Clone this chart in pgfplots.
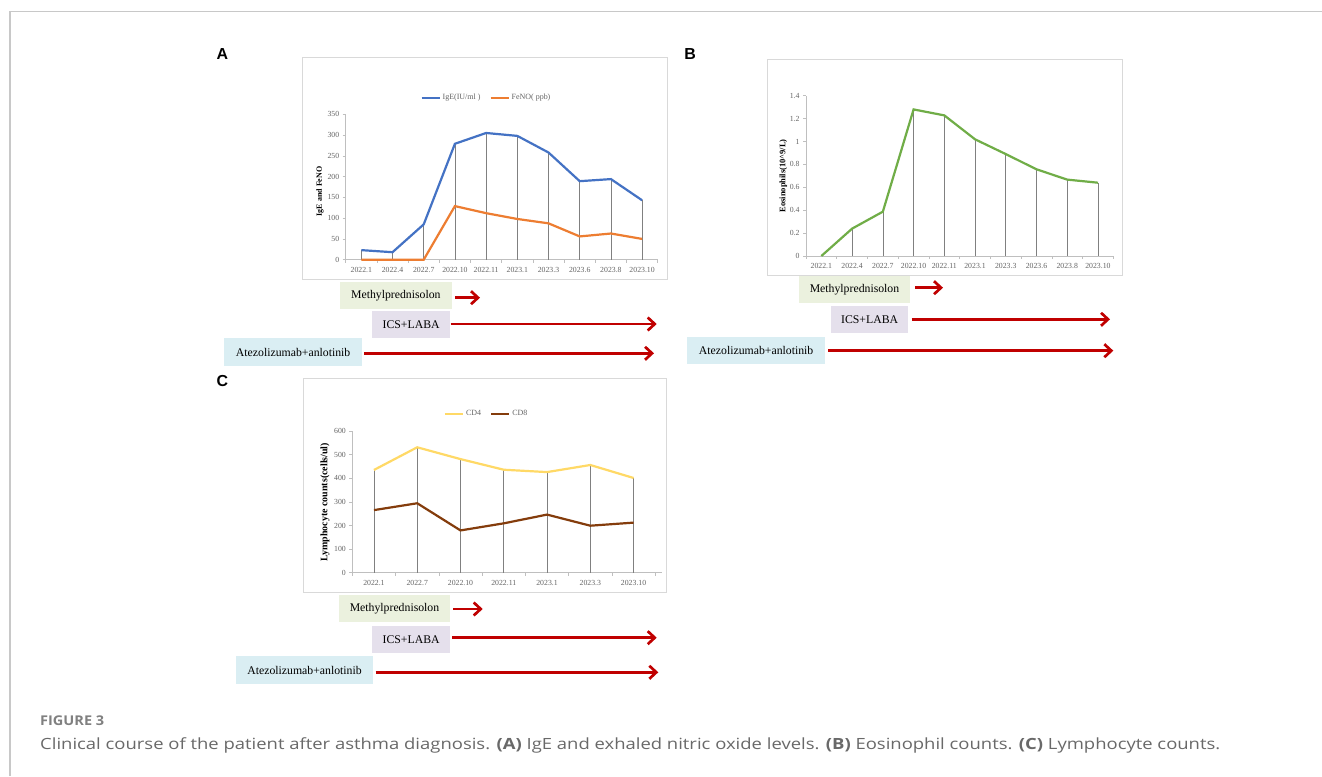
\documentclass[border=0pt]{standalone}
\usepackage{fontspec}
\setmainfont{Liberation Serif}
\newfontfamily\capfont{Open Sans}
\newfontfamily\letterfont{Liberation Sans}
\usepackage{pgfplots}
\pgfplotsset{compat=1.18}
\usetikzlibrary{arrows.meta}
\definecolor{igeblue}{RGB}{68,114,196}
\definecolor{fenoorange}{RGB}{237,125,49}
\definecolor{eosgreen}{RGB}{112,173,71}
\definecolor{cdfour}{RGB}{255,217,102}
\definecolor{cdeight}{RGB}{132,60,12}
\definecolor{arrowred}{RGB}{192,0,0}
\definecolor{fillmeth}{RGB}{235,241,222}
\definecolor{fillics}{RGB}{229,224,236}
\definecolor{fillatez}{RGB}{218,238,243}
\definecolor{framegray}{RGB}{200,200,200}
\definecolor{boxgray}{RGB}{217,217,217}
\definecolor{axgray}{RGB}{191,191,191}
\definecolor{dropgray}{RGB}{128,128,128}
\definecolor{ticktext}{RGB}{100,100,100}
\definecolor{captext}{RGB}{105,105,105}
\pgfplotsset{
  excel/.style={
    scale only axis, anchor=south west, clip=false,
    axis x line*=bottom, axis y line*=left,
    axis line style={draw=axgray, line width=0.6bp},
    tick align=outside, major tick length=3bp,
    tick style={draw=axgray, line width=0.6bp},
    ymin=0, scaled y ticks=false,
    tick label style={font=\fontsize{7.8}{9}\selectfont, text=ticktext},
    /pgf/number format/assume math mode=true,
    xticklabels={},
    extra x tick style={major tick length=0pt, xticklabel style={yshift=-4bp}},
    every axis y label/.style={rotate=90, anchor=center},
    legend style={draw=none, fill=none, font=\fontsize{8}{9}\selectfont, text=ticktext,
      legend columns=2, anchor=center, inner sep=0pt,
      /tikz/every even column/.append style={column sep=7bp}},
    legend image code/.code={\draw[##1] (0bp,0bp) -- (18bp,0bp);},
  }
}
\begin{document}
\begin{tikzpicture}
\begin{scope}[x=1bp,y=1bp]
\path[use as bounding box] (0,0) rectangle (1322,776);
\fill[white] (0,0) rectangle (1322,776);
\draw[framegray, line width=1.2bp] (10,0) -- (10,764.3) -- (1322,764.3);
% chart frames
\draw[boxgray, line width=0.8bp] (302.7,497) rectangle (667.5,718.3);
\draw[boxgray, line width=0.8bp] (767,501) rectangle (1122.5,716.7);
\draw[boxgray, line width=0.8bp] (303.5,183.7) rectangle (666.5,397.7);
% panel letters
\node[font=\letterfont\bfseries\fontsize{16}{18}\selectfont] at (222.5,722) {A};
\node[font=\letterfont\bfseries\fontsize{16}{18}\selectfont] at (690,722) {B};
\node[font=\letterfont\bfseries\fontsize{16}{18}\selectfont] at (222.5,395) {C};
% treatment boxes
\tikzset{tbox/.style={inner sep=0pt, font=\fontsize{11.8}{13}\selectfont},
         tarr/.style={arrowred, line width=2.7bp, -{Straight Barb[length=7bp,width=13bp,line width=2.7bp]}}}
% A
\fill[fillmeth] (340,467) rectangle (451.7,494.3); \node[tbox] at (395.85,480.65) {Methylprednisolon};
\fill[fillics] (372.3,437.7) rectangle (450,465.3); \node[tbox] at (411.15,451.5) {ICS+LABA};
\fill[fillatez] (224,410.3) rectangle (362.3,437.7); \node[tbox] at (293.15,424) {Atezolizumab+anlotinib};
\draw[tarr] (455,478.3) -- (480,478.3);
\draw[tarr] (450.7,452) -- (656.7,452);
\draw[tarr] (364,422.7) -- (654,422.7);
% B
\fill[fillmeth] (799,472.7) rectangle (910,500); \node[tbox] at (854.5,486.35) {Methylprednisolon};
\fill[fillics] (831,442.7) rectangle (908.3,470); \node[tbox] at (869.65,456.35) {ICS+LABA};
\fill[fillatez] (687.3,412) rectangle (825,439.3); \node[tbox] at (756.15,425.65) {Atezolizumab+anlotinib};
\draw[tarr] (915,488.3) -- (943,488.3);
\draw[tarr] (911.7,456.7) -- (1110,456.7);
\draw[tarr] (828.3,425.3) -- (1113.3,425.3);
% C
\fill[fillmeth] (339,153.7) rectangle (450,181); \node[tbox] at (394.5,167.35) {Methylprednisolon};
\fill[fillics] (372.3,122.7) rectangle (450,150.3); \node[tbox] at (411.15,136.5) {ICS+LABA};
\fill[fillatez] (235.7,92) rectangle (373.3,120); \node[tbox] at (304.5,106) {Atezolizumab+anlotinib};
\draw[tarr] (453,167) -- (482.7,167);
\draw[tarr] (452.3,138.3) -- (656.7,138.3);
\draw[tarr] (375.7,103.7) -- (658.3,103.7);
% caption
\node[anchor=base west, inner sep=0pt, text=captext!85, font=\capfont\bfseries\fontsize{13.5}{15}\selectfont] at (40,50.5) {\scalebox{1.08}[1]{FIGURE 3}};
\node[anchor=base west, inner sep=0pt, text=captext, font=\capfont\fontsize{15.5}{18}\selectfont] at (40,26.7)
 {\scalebox{1.195}[1]{Clinical course of the patient after asthma diagnosis. \textbf{(A)} IgE and exhaled nitric oxide levels. \textbf{(B)} Eosinophil counts. \textbf{(C)} Lymphocyte counts.}};
\end{scope}

% ---------- Panel A ----------
\begin{axis}[excel, at={(345.7bp,516.3bp)}, width=312bp, height=145.4bp,
  xmin=-0.5, xmax=9.5, ymax=350, ytick={0,50,...,350},
  xtick={-0.5,0.5,...,9.5},
  extra x ticks={0,...,9},
  extra x tick labels={2022.1,2022.4,2022.7,2022.10,2022.11,2023.1,2023.3,2023.6,2023.8,2023.10},
  ylabel={IgE and FeNO},
  ylabel style={at={(axis description cs:-0.0824,0.47)}, font=\bfseries\fontsize{8}{9}\selectfont},
  legend style={at={(axis description cs:0.451,1.114)}},
]
\addplot[ycomb, draw=dropgray, line width=0.6bp, forget plot] coordinates {
 (0,23) (1,18) (2,85) (3,279) (4,305) (5,298) (6,258) (7,189) (8,194) (9,143)};
\addplot[draw=igeblue, line width=2.2bp] coordinates {
 (0,23) (1,18) (2,85) (3,279) (4,305) (5,298) (6,258) (7,189) (8,194) (9,143)};
\addlegendentry{IgE(IU/ml )}
\addplot[draw=fenoorange, line width=2.2bp] coordinates {
 (0,0) (1,0) (2,0) (3,129) (4,112) (5,98) (6,87.5) (7,56) (8,63) (9,50)};
\addlegendentry{FeNO( ppb)}
\end{axis}

% ---------- Panel B ----------
\begin{axis}[excel, at={(806bp,520bp)}, width=307.3bp, height=160.3bp,
  xmin=-0.5, xmax=9.5, ymax=1.4, ytick={0,0.2,0.4,0.6,0.8,1,1.2,1.4},
  xtick={-0.5,0.5,...,9.5},
  extra x ticks={0,...,9},
  extra x tick labels={2022.1,2022.4,2022.7,2022.10,2022.11,2023.1,2023.3,2023.6,2023.8,2023.10},
  ylabel={Eosinophils(10\textasciicircum 9/L)},
  ylabel style={at={(axis description cs:-0.074,0.5)}, font=\bfseries\fontsize{8.5}{9}\selectfont},
]
\addplot[ycomb, draw=dropgray, line width=0.6bp, forget plot] coordinates {
 (0,0) (1,0.239) (2,0.387) (3,1.28) (4,1.228) (5,1.019) (6,0.89) (7,0.757) (8,0.667) (9,0.64)};
\addplot[draw=eosgreen, line width=2.2bp] coordinates {
 (0,0) (1,0.239) (2,0.387) (3,1.28) (4,1.228) (5,1.019) (6,0.89) (7,0.757) (8,0.667) (9,0.64)};
\end{axis}

% ---------- Panel C ----------
\begin{axis}[excel, at={(352.3bp,203.3bp)}, width=309.4bp, height=141.7bp,
  xmin=-0.5, xmax=6.65, ymax=600, ytick={0,100,...,600},
  xtick={-0.5,0.5,...,6.5},
  extra x ticks={0,...,6},
  extra x tick labels={2022.1,2022.7,2022.10,2022.11,2023.1,2023.3,2023.10},
  ylabel={Lymphocyte counts(cells/ul)},
  ylabel style={at={(axis description cs:-0.088,0.497)}, font=\bfseries\fontsize{10}{11}\selectfont},
  legend style={at={(axis description cs:0.434,1.12)}},
]
\addplot[ycomb, draw=dropgray, line width=0.6bp, forget plot] coordinates {
 (0,435) (1,531) (2,481) (3,436) (4,426) (5,456) (6,401)};
\addplot[draw=cdfour, line width=2.2bp] coordinates {
 (0,435) (1,531) (2,481) (3,436) (4,426) (5,456) (6,401)};
\addlegendentry{CD4}
\addplot[draw=cdeight, line width=2.2bp] coordinates {
 (0,265) (1,294) (2,179) (3,209) (4,246) (5,199) (6,212)};
\addlegendentry{CD8}
\end{axis}
\end{tikzpicture}
\end{document}
